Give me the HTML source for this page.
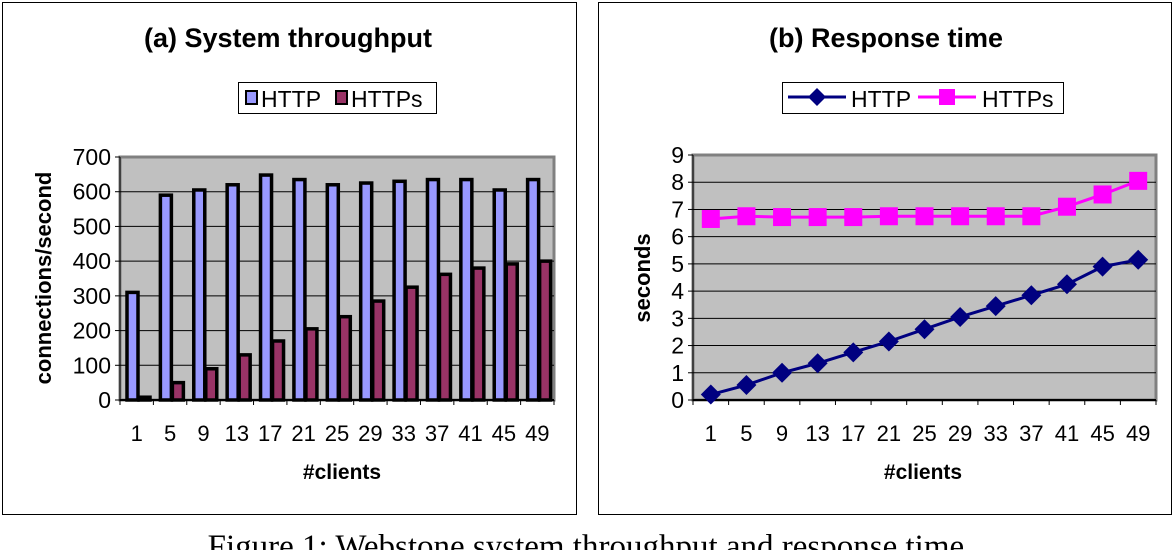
<!DOCTYPE html>
<html><head><meta charset="utf-8"><style>
body{margin:0;width:1176px;height:550px;overflow:hidden;background:#fff;}
svg{display:block;font-family:"Liberation Sans",Arial,sans-serif;}
</style></head><body>
<svg id="s" width="1176" height="550">
<rect x="2.5" y="2.5" width="574" height="512" fill="#fff" stroke="#000"/>
<rect x="598.5" y="2.5" width="573" height="512" fill="#fff" stroke="#000"/>
<text x="288" y="47" font-size="27" font-weight="bold" text-anchor="middle">(a) System throughput</text>
<text x="886" y="47" font-size="27" font-weight="bold" text-anchor="middle">(b) Response time</text>
<g>
<rect x="238.5" y="82.5" width="198" height="31" fill="#fff" stroke="#000"/>
<rect x="246" y="91" width="11" height="13" fill="#9999ff" stroke="#000" stroke-width="2"/>
<text x="261" y="107" font-size="23">HTTP</text>
<rect x="336" y="91" width="11" height="13" fill="#993366" stroke="#000" stroke-width="2"/>
<text x="351" y="107" font-size="23">HTTPs</text>
</g>
<g>
<rect x="782.5" y="82.5" width="281" height="31" fill="#fff" stroke="#000"/>
<line x1="788" y1="97" x2="846" y2="97" stroke="#000080" stroke-width="3"/>
<path d="M817 88 L826 97 L817 106 L808 97Z" fill="#000080"/>
<text x="851" y="107" font-size="23">HTTP</text>
<line x1="918" y1="97" x2="976" y2="97" stroke="#ff00ff" stroke-width="3"/>
<rect x="939" y="89" width="16" height="16" fill="#ff00ff"/>
<text x="982" y="107" font-size="23">HTTPs</text>
</g>
<text x="51" y="278" font-size="22" font-weight="bold" text-anchor="middle" transform="rotate(-90 51 278)">connections/second</text>
<text x="650" y="278" font-size="22" font-weight="bold" text-anchor="middle" transform="rotate(-90 650 278)">seconds</text>
<text x="342" y="479" font-size="21" font-weight="bold" text-anchor="middle">#clients</text>
<text x="923" y="479" font-size="21" font-weight="bold" text-anchor="middle">#clients</text>
<text x="590" y="557" font-size="33" font-family="Liberation Serif,serif" text-anchor="middle">Figure 1: Webstone system throughput and response time.</text>
<g id="ga"></g><g id="gb"></g>
</svg>
<script>
const categories=[1,5,9,13,17,21,25,29,33,37,41,45,49];
const httpThroughput=[310,590,605,620,648,635,620,625,630,635,635,605,635];
const httpsThroughput=[8,50,90,130,170,205,240,285,325,362,380,392,400];
const ticksA=[0,100,200,300,400,500,600,700];
const httpResp=[0.2,0.55,1.0,1.35,1.75,2.15,2.6,3.05,3.45,3.85,4.25,4.9,5.15];
const httpsResp=[6.65,6.75,6.72,6.72,6.72,6.75,6.75,6.75,6.75,6.75,7.1,7.55,8.05];
const ticksB=[0,1,2,3,4,5,6,7,8,9];
const NS="http://www.w3.org/2000/svg";
function mk(p,t,a){const e=document.createElementNS(NS,t);for(const k in a)e.setAttribute(k,a[k]);p.appendChild(e);return e;}
function panel(g,L,R,T,B,max,ticks){
  mk(g,'rect',{x:L,y:T,width:R-L,height:B-T,fill:'#c0c0c0',stroke:'#808080','stroke-width':3});
  const y=v=>B-(v/max)*(B-T);
  ticks.forEach(t=>{
    if(t>0&&t<max){const l=mk(g,'line',{x1:L,x2:R,y1:y(t),y2:y(t),stroke:'#000','stroke-width':1});
    
    }
    mk(g,'line',{x1:L-5,x2:L,y1:y(t),y2:y(t),stroke:'#000'});
    const tx=mk(g,'text',{x:L-9,y:y(t)+8,'font-size':23,'text-anchor':'end'});tx.textContent=t;
    
    
  });
  mk(g,'line',{x1:L,x2:L,y1:T,y2:B,stroke:'#000','stroke-width':1});
  mk(g,'line',{x1:L,x2:R,y1:B,y2:B,stroke:'#000','stroke-width':2});
  const w=(R-L)/categories.length;
  categories.forEach((c,i)=>{
    mk(g,'line',{x1:L+i*w,x2:L+i*w,y1:B,y2:B+5,stroke:'#000'});
    const tx=mk(g,'text',{x:L+(i+0.5)*w,y:B+41,'font-size':22,'text-anchor':'middle'});tx.textContent=c;
    
    
  });
  mk(g,'line',{x1:R,x2:R,y1:B,y2:B+5,stroke:'#000'});
  return {y,w};
}
const ga=document.getElementById('ga');
const A=panel(ga,120,554,157,400,700,ticksA);
categories.forEach((c,i)=>{
  const x0=120+i*A.w+7;
  [[httpThroughput,'#9999ff',0],[httpsThroughput,'#993366',12]].forEach(([arr,col,off])=>{
    const yv=A.y(arr[i]);
    const r=mk(ga,'rect',{x:x0+off,y:yv,width:11,height:400-yv,fill:col,stroke:'#000','stroke-width':3.5});
    
    
  });
});
const gb=document.getElementById('gb');
const B=panel(gb,693,1156,155,400,9,ticksB);
const xb=i=>693+(i+0.5)*B.w;
[[httpResp,'#000080','d'],[httpsResp,'#ff00ff','s']].forEach(([arr,col,m])=>{
  const pl=mk(gb,'polyline',{points:arr.map((v,i)=>xb(i)+','+B.y(v)).join(' '),fill:'none',stroke:col,'stroke-width':3});
  
  
  arr.forEach((v,i)=>{
    const X=xb(i),Y=B.y(v);let e;
    if(m==='d')e=mk(gb,'path',{d:`M${X} ${Y-10}L${X+10} ${Y}L${X} ${Y+10}L${X-10} ${Y}Z`,fill:col});
    else e=mk(gb,'rect',{x:X-9,y:Y-9,width:18,height:18,fill:col});
    
    
  });
});
</script>
</body></html>
